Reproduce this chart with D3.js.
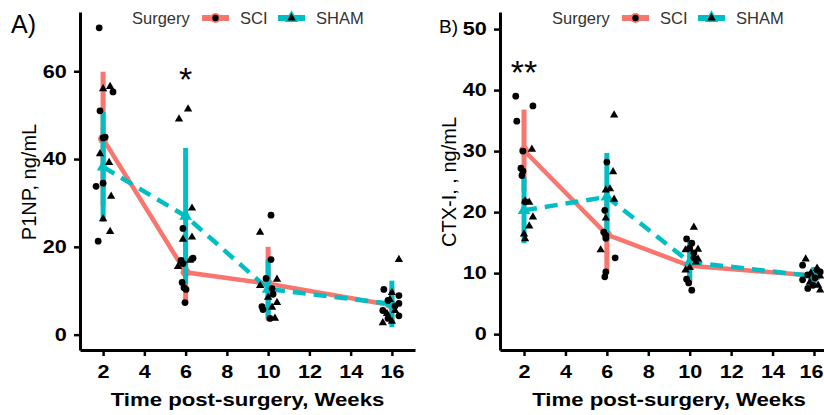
<!DOCTYPE html>
<html><head><meta charset="utf-8">
<script src="https://cdn.jsdelivr.net/npm/d3@7"></script>
<style>body{margin:0;background:#fff}svg{display:block}</style>
</head><body>
<svg id="c" width="824" height="415"></svg>
<script>
// ---- data ----
const weeks = [2, 6, 10, 16];
const groups = ["SCI", "SHAM"];
// Panel A: P1NP
const p1npSciMean = [44.6, 14.2, 11.6, 6.7];
const p1npSciErr = [15.3, 7.0, 8.4, 4.0];
const p1npShamMean = [38.2, 27.0, 10.4, 7.0];
const p1npShamErr = [12.5, 15.5, 6.7, 5.3];
const p1npSciPts = [[1.81,69.9],[2.48,55.3],[1.85,51],[2.0,44.8],[2.1,45],[1.66,33.8],[2.0,34.5],[1.76,21.3],
  [5.87,24.2],[6.36,17.4],[5.78,16.9],[5.87,16.2],[5.83,11.9],[5.92,10.7],[6.02,10.3],[5.97,7.3],
  [10.14,27.2],[10.14,17.1],[9.9,12.8],[10.19,10.5],[10.24,9.2],[9.7,6.4],[9.75,5.7],[10.09,3.7],
  [15.61,10.3],[16.34,8.9],[15.81,7.8],[16.34,7.1],[16.34,4.3],[15.81,3.7],[15.56,5.5],[16.15,6.5]];
const p1npShamPts = [[2.0,56],[2.34,56.5],[1.85,41.2],[2.29,39.2],[2.39,31.5],[2.0,26.4],[2.34,23.5],
  [6.12,51.4],[5.68,49.1],[6.31,28.8],[5.87,21.7],[6.31,22.2],[5.63,15.5],[6.21,16.9],
  [9.61,23.3],[10.43,12.6],[9.61,11.2],[10.43,7.3],[10.33,3.7],[10.0,8.5],[10.19,6.2],
  [16.34,17.1],[16.0,9.6],[15.76,4.8],[16.15,5.5],[15.56,2.7],[16.0,3.0],[15.9,8.0]];
// Panel B: CTX-I
const ctxSciMean = [30.1, 16.3, 11.2, 9.6];
const ctxSciErr = [6.7, 6.3, 2.8, 1.3];
const ctxShamMean = [20.3, 22.5, 11.8, 9.5];
const ctxShamErr = [5.4, 7.2, 3.3, 1.5];
const ctxSciPts = [[1.6,39.0],[2.43,37.4],[1.65,34.9],[1.95,30.0],[1.85,27.2],[1.95,26.7],[1.9,26.0],[2.05,21.7],
  [6.0,28.2],[5.9,20.3],[5.85,16.7],[5.95,16.2],[5.95,15.7],[6.4,12.5],[5.95,10.2],[5.9,9.4],
  [9.85,15.6],[10.1,14.9],[10.0,14.1],[10.2,13.3],[10.2,12.5],[9.85,9.0],[9.95,8.4],[10.1,7.2],
  [15.45,11.3],[16.15,10.5],[16.3,10.2],[15.7,9.7],[16.05,9.2],[15.45,8.9],[15.95,8.0],[15.7,7.5]];
const ctxShamPts = [[2.38,30.3],[2.05,21.8],[2.25,21.6],[2.43,19.2],[2.25,17.7],[2.0,16.4],[2.05,15.6],
  [6.35,35.9],[6.3,26.6],[5.95,23.6],[6.15,23.8],[6.35,22.1],[5.95,19.0],[5.7,13.8],
  [10.2,17.5],[9.8,13.8],[10.4,13.9],[10.4,12.3],[9.8,10.5],[10.3,11.8],[10.0,10.9],
  [15.6,12.3],[16.15,10.8],[15.85,10.0],[16.3,9.5],[15.8,8.5],[16.2,8.0],[16.3,7.2]];
const yTicksA = [0, 20, 40, 60];
const yTicksB = [0, 10, 20, 30, 40, 50];
const xTicks = [2, 4, 6, 8, 10, 12, 14, 16];

const colors = {SCI: "#F8766D", SHAM: "#00BFC4"};
const svg = d3.select("#c");
const FONT = "'Liberation Sans', Arial, sans-serif";
const SX = 1.2; // horizontal text stretch seen in the reference

function drawPanel(cfg) {
  const g = svg.append("g");
  const x = d3.scaleLinear().domain(cfg.xDomain).range(cfg.xRange);
  const y = d3.scaleLinear().domain(cfg.yDomain).range([350, 12]);

  const series = [
    {name: "SCI", mean: cfg.sciMean, err: cfg.sciErr, pts: cfg.sciPts, sym: d3.symbolCircle, dash: null},
    {name: "SHAM", mean: cfg.shamMean, err: cfg.shamErr, pts: cfg.shamPts, sym: d3.symbolTriangle, dash: "13,8"}
  ];
  series.forEach(s => {
    const col = colors[s.name];
    g.selectAll(null).data(weeks).enter().append("line")
      .attr("x1", (d) => x(d)).attr("x2", (d) => x(d))
      .attr("y1", (d, i) => y(s.mean[i] - s.err[i]))
      .attr("y2", (d, i) => y(s.mean[i] + s.err[i]))
      .attr("stroke", col).attr("stroke-width", 5);
    const line = d3.line().x((d) => x(d[0])).y((d) => y(d[1]));
    g.append("path").datum(weeks.map((w, i) => [w, s.mean[i]]))
      .attr("d", line).attr("fill", "none").attr("stroke", col)
      .attr("stroke-width", 4.5).attr("stroke-dasharray", s.dash);
    g.selectAll(null).data(weeks).enter().append("path")
      .attr("d", d3.symbol(s.sym, s.name === "SCI" ? 80 : 70))
      .attr("transform", (d, i) => `translate(${x(d)},${y(s.mean[i])})`)
      .attr("fill", col);
  });
  series.forEach(s => {
    g.selectAll(null).data(s.pts).enter().append("path")
      .attr("d", d3.symbol(s.sym, s.name === "SCI" ? 36 : 30))
      .attr("transform", (d) => `translate(${x(d[0])},${y(d[1])})`)
      .attr("fill", "#000");
  });

  // axes
  const yAx = g.append("g").attr("transform", `translate(${cfg.xRange[0]},0)`)
    .call(d3.axisLeft(y).tickValues(cfg.yTicks).tickSize(6).tickPadding(5).tickSizeOuter(0));
  const xAx = g.append("g").attr("transform", `translate(0,350)`)
    .call(d3.axisBottom(x).tickValues(xTicks).tickSize(6).tickPadding(9).tickSizeOuter(0));
  [yAx, xAx].forEach(a => {
    a.select(".domain").attr("stroke", "#000").attr("stroke-width", 3);
    a.selectAll(".tick line").attr("stroke", "#000").attr("stroke-width", 2.5);
    a.selectAll(".tick text").attr("fill", "#000").attr("font-family", FONT)
      .attr("font-size", 18).attr("font-weight", "bold")
      .attr("transform", `scale(${SX},1)`);
  });
  xAx.selectAll(".tick text").attr("dy", "0.71em");
  if (cfg.lastTickShift) {
    xAx.selectAll(".tick text").filter((d) => d === 16)
      .attr("transform", `translate(${cfg.lastTickShift},0) scale(${SX},1)`);
  }

  // titles
  g.append("text")
    .attr("transform", `translate(${(cfg.xRange[0] + cfg.xRange[1]) / 2},406) scale(${SX},1)`)
    .attr("text-anchor", "middle").attr("font-family", FONT).attr("font-size", 18.5)
    .attr("font-weight", "bold").attr("fill", "#000").text("Time post-surgery, Weeks");
  g.append("text").attr("transform", `translate(${cfg.yTitleX},182) rotate(-90)`)
    .attr("text-anchor", "middle").attr("font-family", FONT).attr("font-size", 20)
    .attr("fill", "#000").text(cfg.yTitle);
  g.append("text").attr("x", cfg.tagX).attr("y", 33).attr("font-family", FONT)
    .attr("font-size", cfg.tagSize).attr("fill", "#000").text(cfg.tag);
  g.append("text").attr("x", x(cfg.starAt[0])).attr("y", y(cfg.starAt[1]))
    .attr("dy", "0.55em").attr("text-anchor", "middle").attr("font-family", FONT)
    .attr("font-size", 34).attr("fill", "#000").text(cfg.star);

  // legend
  const lg = g.append("g").attr("transform", `translate(${cfg.legendX},18)`);
  lg.append("text").attr("x", 0).attr("y", 0).attr("dy", "0.35em").attr("font-family", FONT)
    .attr("font-size", 16.5).attr("fill", "#333").text("Surgery");
  const keyX = [70, 146];
  groups.forEach((name, i) => {
    const k = lg.append("g").attr("transform", `translate(${keyX[i]},0)`);
    k.append("line").attr("x1", 0).attr("x2", 27).attr("y1", 0).attr("y2", 0)
      .attr("stroke", colors[name]).attr("stroke-width", 6);
    k.append("path").attr("d", d3.symbol(i === 0 ? d3.symbolCircle : d3.symbolTriangle, 80))
      .attr("transform", "translate(13.5,0)").attr("fill", colors[name]);
    k.append("path").attr("d", d3.symbol(i === 0 ? d3.symbolCircle : d3.symbolTriangle, 32))
      .attr("transform", "translate(13.5,0)").attr("fill", "#000");
    k.append("text").attr("x", 38).attr("y", 0).attr("dy", "0.35em").attr("font-family", FONT)
      .attr("font-size", 16.5).attr("fill", "#333").text(name);
  });
}

drawPanel({
  xDomain: [0.88, 17.12], xRange: [80, 415], yDomain: [-3.5, 73.5], yTicks: yTicksA,
  sciMean: p1npSciMean, sciErr: p1npSciErr, shamMean: p1npShamMean, shamErr: p1npShamErr,
  sciPts: p1npSciPts, shamPts: p1npShamPts,
  yTitle: "P1NP, ng/mL", yTitleX: 36, tag: "A)", tagX: 11, tagSize: 25, star: "*", starAt: [6, 59.7], legendX: 132
});
drawPanel({
  xDomain: [0.84, 17.16], xRange: [500, 838], yDomain: [-2.6, 52.8], yTicks: yTicksB,
  sciMean: ctxSciMean, sciErr: ctxSciErr, shamMean: ctxShamMean, shamErr: ctxShamErr,
  sciPts: ctxSciPts, shamPts: ctxShamPts,
  yTitle: "CTX-I, , ng/mL", yTitleX: 456, tag: "B)", tagX: 439, tagSize: 19, star: "**", starAt: [2, 44.1], legendX: 552,
  lastTickShift: -3
});
</script>
</body></html>
